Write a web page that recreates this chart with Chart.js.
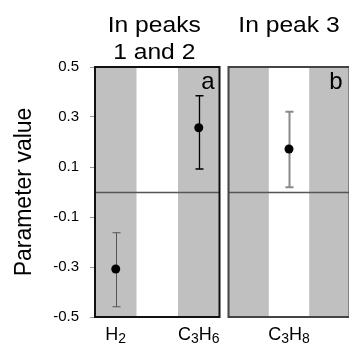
<!DOCTYPE html>
<html>
<head>
<meta charset="utf-8">
<script src="https://cdn.jsdelivr.net/npm/chart.js@4.4.1/dist/chart.umd.min.js"></script>
<style>
  html, body { margin: 0; padding: 0; background: #fff; overflow: hidden; }
  #wrap { position: relative; width: 349px; height: 345px; overflow: hidden; }
  canvas { position: absolute; top: 0; }
</style>
</head>
<body>
<div id="wrap">
  <canvas id="panelA" width="224" height="345" style="left:0"></canvas>
  <canvas id="panelB" width="130" height="345" style="left:224px"></canvas>
</div>
<script>
/* ---- values ---- */
const labelsA = ["H₂", "", "C₃H₆"];
const valuesA = [-0.308, null, 0.257];
const lowA = [-0.459, null, 0.092];
const highA = [-0.163, null, 0.385];

const labelsB = ["", "C₃H₈", ""];
const valuesB = [null, 0.172, null];
const lowB = [null, 0.019, null];
const highB = [null, 0.321, null];

const yTicks = [-0.5, -0.3, -0.1, 0.1, 0.3, 0.5];
const titleA = ["In peaks", "1 and 2"];
const titleB = ["In peak 3"];

const FONT = "'Liberation Sans', Arial, Helvetica, sans-serif";
const SUBS = "₀₁₂₃₄₅₆₇₈₉";

// draw a formula label, subscript digits smaller and lowered
function drawFormula(ctx, text, cx, base) {
  const parts = [...text].map(ch => {
    const k = SUBS.indexOf(ch);
    return k >= 0 ? { t: String(k), sub: true } : { t: ch, sub: false };
  });
  const fontOf = p => (p.sub ? "14px " : "18px ") + FONT;
  let total = 0;
  parts.forEach(p => { ctx.font = fontOf(p); total += ctx.measureText(p.t).width; });
  let x = cx - total / 2;
  ctx.textAlign = "left";
  parts.forEach(p => {
    ctx.font = fontOf(p);
    ctx.fillText(p.t, x, p.sub ? base + 3 : base);
    x += ctx.measureText(p.t).width;
  });
}

/* stripes, zero line, error bars, frame, titles */
const panelPlugin = {
  id: "panel",
  beforeDatasetsDraw(chart, args, opts) {
    const { ctx, chartArea: a, scales: { x, y } } = chart;
    const w = (a.right - a.left) / chart.data.labels.length;
    ctx.save();
    ctx.fillStyle = "#c0c0c0";
    opts.stripes.forEach(i => {
      const cx = x.getPixelForValue(i);
      ctx.fillRect(cx - w / 2, a.top, w, a.bottom - a.top);
    });

    const y0 = Math.round(y.getPixelForValue(0)) + 0.5;
    ctx.strokeStyle = "#555";
    ctx.lineWidth = 1.5;
    ctx.beginPath();
    ctx.moveTo(a.left, y0);
    ctx.lineTo(a.right, y0);
    ctx.stroke();

    opts.low.forEach((lo, i) => {
      if (lo === null) return;
      const px = Math.round(x.getPixelForValue(i)) + 0.5;
      const p1 = y.getPixelForValue(lo);
      const p2 = y.getPixelForValue(opts.high[i]);
      ctx.strokeStyle = opts.errColor[i];
      ctx.lineWidth = opts.errWidth[i];
      ctx.beginPath();
      ctx.moveTo(px, p1); ctx.lineTo(px, p2);
      ctx.moveTo(px - 4, p1); ctx.lineTo(px + 4, p1);
      ctx.moveTo(px - 4, p2); ctx.lineTo(px + 4, p2);
      ctx.stroke();
    });
    ctx.restore();
  },
  afterDraw(chart, args, opts) {
    const { ctx, chartArea: a, scales: { x } } = chart;
    ctx.save();
    ctx.strokeStyle = opts.frame;
    ctx.lineWidth = 2;
    ctx.strokeRect(a.left, a.top, a.right - a.left, a.bottom - a.top);

    ctx.fillStyle = "#000";
    ctx.textBaseline = "alphabetic";

    // category labels under the frame
    chart.data.labels.forEach((lab, i) => {
      if (lab) drawFormula(ctx, lab, x.getPixelForValue(i), 340);
    });

    // panel heading, slightly widened like the original lettering
    ctx.font = "22px " + FONT;
    ctx.textAlign = "center";
    const cx = (a.left + a.right) / 2 + opts.titleShift;
    opts.title.forEach((line, i) => {
      ctx.save();
      ctx.translate(cx, 32 + i * 27);
      ctx.scale(1.12, 1);
      ctx.fillText(line, 0, 0);
      ctx.restore();
    });

    ctx.font = "24px " + FONT;
    ctx.textAlign = "right";
    ctx.fillText(opts.letter, a.right - opts.letterGap, 89);
    ctx.restore();
  }
};

function makePanel(id, labels, values, extra) {
  return new Chart(document.getElementById(id), {
    type: "line",
    data: {
      labels: labels,
      datasets: [{
        data: values,
        showLine: false,
        pointRadius: 4.5,
        pointBorderWidth: 0,
        pointBackgroundColor: "#000",
        borderColor: "#000"
      }]
    },
    options: {
      responsive: false,
      animation: false,
      layout: { padding: extra.padding },
      scales: {
        x: {
          type: "category",
          offset: true,
          grid: { display: false },
          border: { display: false },
          ticks: { display: false },
          afterFit: s => { s.height = 28; }
        },
        y: {
          display: extra.showY,
          min: -0.5,
          max: 0.5,
          afterBuildTicks: s => { s.ticks = yTicks.map(v => ({ value: v })); },
          afterFit: s => { s.width = extra.showY ? 95 : 0; },
          grid: { drawOnChartArea: false, drawTicks: true, tickLength: 5, color: "#999" },
          border: { display: false },
          ticks: {
            color: "#000",
            font: { family: FONT, size: 15 },
            padding: 11,
            callback: v => v.toFixed(1)
          },
          title: {
            display: true,
            text: "Parameter value",
            color: "#000",
            font: { family: FONT, size: 23 },
            padding: { top: 11, bottom: 0 }
          }
        }
      },
      plugins: {
        legend: { display: false },
        tooltip: { enabled: false },
        panel: extra.panel
      }
    },
    plugins: [panelPlugin]
  });
}

makePanel("panelA", labelsA, valuesA, {
  showY: true,
  padding: { left: 0, right: 3, top: 67, bottom: 0 },
  panel: {
    stripes: [0, 2],
    low: lowA,
    high: highA,
    errColor: ["#555", null, "#000"],
    errWidth: [1, 1, 1.3],
    frame: "#111",
    title: titleA,
    titleShift: -3,
    letter: "a",
    letterGap: 5
  }
});

makePanel("panelB", labelsB, valuesB, {
  showY: false,
  padding: { left: 4, right: 0, top: 67, bottom: 0 },
  panel: {
    stripes: [0, 2],
    low: lowB,
    high: highB,
    errColor: [null, "#8a8a8a", null],
    errWidth: [1, 2, 1],
    frame: "#444",
    title: titleB,
    titleShift: 0,
    letter: "b",
    letterGap: 7
  }
});
</script>
</body>
</html>
